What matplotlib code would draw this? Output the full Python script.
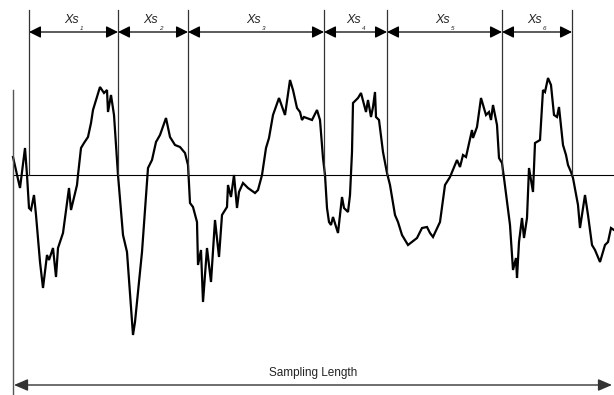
# Surface profile with zero-crossing spacings (Xs) over the sampling length
import matplotlib
matplotlib.use("Agg")
import matplotlib.pyplot as plt
from matplotlib.patches import FancyArrowPatch

plt.rcParams['font.family'] = ['Liberation Sans', 'DejaVu Sans']

# -------------------------------
# Data (x = position along sampling length, z = height above mean line)
# -------------------------------
profile_x = [13, 20, 25, 27, 29, 31, 34, 36, 40, 43, 47, 49, 53, 56, 58, 63, 69, 71, 77, 78,
             81, 84, 88, 91, 93, 100, 104, 107, 108, 111, 114, 118, 123, 127, 133, 135, 142,
             148, 152, 156, 160, 166, 170, 175, 180, 185, 188, 190, 193, 197, 198, 201, 203,
             207, 211, 215, 219, 222, 227, 228, 231, 234, 237, 239, 243, 248, 255, 258, 262,
             266, 269, 273, 279, 285, 290, 293, 297, 300, 302, 304, 312, 317, 320, 323, 325,
             327, 329, 331, 333, 338, 342, 344, 348, 350, 352, 353, 358, 361, 366, 368, 371,
             373, 375, 376, 379, 383, 387, 390, 395, 398, 402, 408, 417, 422, 427, 430, 433,
             440, 445, 450, 457, 460, 463, 466, 472, 473, 477, 481, 486, 489, 491, 493, 497,
             499, 502, 504, 510, 513, 516, 517, 519, 522, 524, 527, 529, 533, 535, 540, 543,
             545, 548, 551, 554, 557, 559, 563, 566, 568, 571, 573, 578, 580, 585, 588, 592,
             595, 600, 605, 608, 611, 614]
profile_py = [157, 188, 148, 175, 208, 210, 195, 215, 262, 288, 255, 260, 248, 277, 248, 233, 188, 210, 185, 175,
              148, 143, 137, 123, 110, 87, 93, 90, 112, 95, 115, 175, 235, 252, 335, 322, 252,
              168, 160, 142, 135, 118, 137, 145, 147, 153, 165, 203, 207, 222, 265, 250, 302,
              248, 282, 220, 257, 215, 207, 185, 197, 175, 208, 192, 183, 188, 193, 190, 175,
              148, 138, 115, 98, 115, 80, 90, 108, 112, 120, 117, 120, 110, 120, 158, 175,
              208, 222, 225, 217, 233, 197, 208, 212, 195, 152, 103, 98, 93, 112, 100, 117,
              107, 92, 117, 120, 152, 173, 185, 215, 222, 235, 245, 238, 228, 227, 233, 237,
              222, 185, 177, 160, 167, 155, 157, 130, 138, 127, 98, 115, 112, 120, 105, 125,
              158, 163, 178, 225, 270, 258, 278, 242, 218, 238, 218, 168, 192, 143, 140, 90,
              92, 78, 85, 115, 117, 107, 145, 155, 165, 172, 178, 205, 228, 195, 215, 245,
              250, 262, 245, 242, 228, 230]
mean_level = 175
profile_z = [mean_level - p for p in profile_py]

# zero crossings bounding each Xs spacing
crossings = [29, 118, 188, 324, 387, 502, 572]
subscripts = [str(i + 1) for i in range(len(crossings) - 1)]

# -------------------------------
# Plot
# -------------------------------
fig = plt.figure(figsize=(6.14, 3.95), dpi=100)
ax = fig.add_axes([0, 0, 1, 1])
ax.set_xlim(0, 614)
ax.set_ylim(mean_level - 395, mean_level)
ax.axis('off')

# profile and mean line
ax.plot(profile_x, profile_z, color='black', lw=1.6, solid_joinstyle='miter')
ax.plot([13, 614], [0, 0], color='black', lw=0.8)
ax.plot([13, 13], [mean_level - 90, mean_level - 395], color='#555555', lw=1.0)

# crossing markers and Xs arrows
for xc in crossings:
    ax.plot([xc, xc], [0, mean_level - 10], color='#333333', lw=0.9)
for x0, x1, sub in zip(crossings[:-1], crossings[1:], subscripts):
    ax.add_patch(FancyArrowPatch((x0, mean_level - 32), (x1, mean_level - 32),
                                 arrowstyle='<|-|>,head_length=0.6,head_width=0.3',
                                 mutation_scale=12, shrinkA=0, shrinkB=0,
                                 color='black', lw=0.9))
    t = ax.text((x0 + x1) / 2 - 2, mean_level - 20, 'Xs', ha='center', va='center',
                fontsize=9, fontstyle='italic', color='#222222')
    ax.annotate(sub, xy=(1, 0), xycoords=t, xytext=(0.5, -1.5), textcoords='offset points',
                ha='left', va='center', fontsize=4.5, fontstyle='italic', color='#222222')

# sampling length
ax.add_patch(FancyArrowPatch((14, mean_level - 385), (612, mean_level - 385),
                             arrowstyle='<|-|>,head_length=0.7,head_width=0.3',
                             mutation_scale=12, shrinkA=0, shrinkB=0,
                             color='#333333', lw=1.0))
ax.text(313, mean_level - 373, 'Sampling Length', ha='center', va='center',
        fontsize=8.5, color='#222222')

fig.savefig('out.png', dpi=100)
